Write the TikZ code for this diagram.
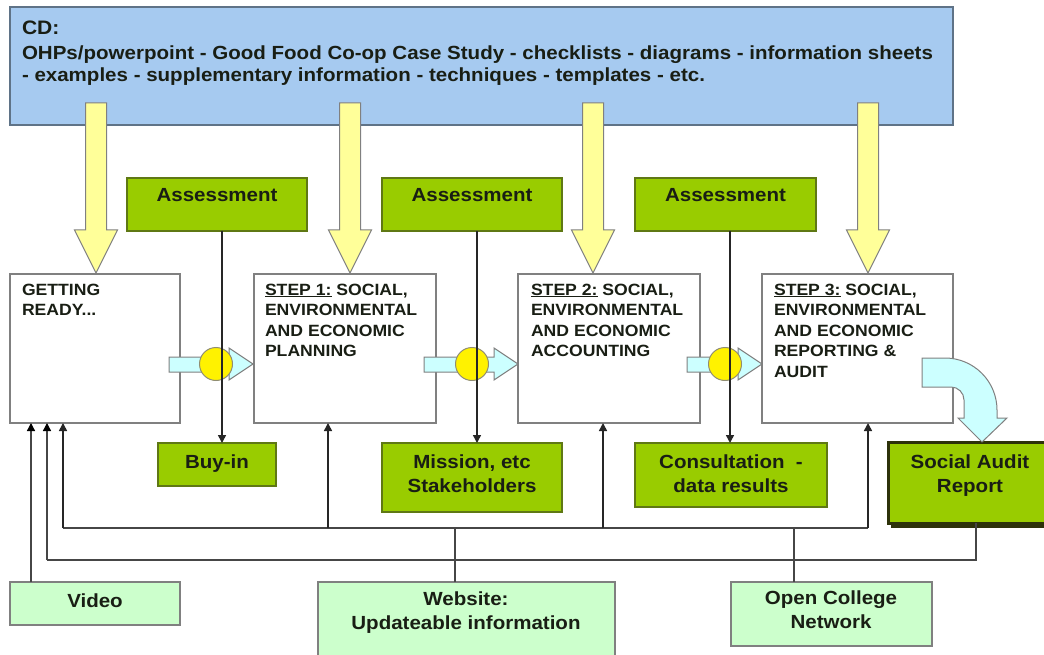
\documentclass[tikz,border=0pt]{standalone}
\usepackage{fontspec}
\setmainfont{Liberation Sans}[FakeStretch=1.08]
\usetikzlibrary{arrows.meta,calc}
\definecolor{cdblue}{RGB}{166,202,240}
\definecolor{cdedge}{RGB}{95,115,135}
\definecolor{grn}{RGB}{153,204,0}
\definecolor{grnedge}{RGB}{95,120,20}
\definecolor{ltg}{RGB}{204,255,204}
\definecolor{ypale}{RGB}{255,255,153}
\definecolor{bpale}{RGB}{204,255,255}
\definecolor{boxedge}{RGB}{128,128,128}
\definecolor{sardark}{RGB}{45,50,10}
\definecolor{txt}{RGB}{25,30,20}
\newcommand{\fcdhead}{\fontsize{19.5}{22}\selectfont\bfseries}
\newcommand{\fcdline}{\fontsize{19}{22}\selectfont\bfseries}
\newcommand{\fgrn}{\fontsize{19}{24}\selectfont\bfseries}
\newcommand{\fstep}{\fontsize{16.3}{20.6}\selectfont\bfseries}
\begin{document}
\begin{tikzpicture}[x=1pt,y=-1pt,
  every node/.style={inner sep=0pt,outer sep=0pt,text=txt},
  cdbox/.style={fill=cdblue,draw=cdedge,line width=1.2pt},
  stepbox/.style={fill=white,draw=boxedge,line width=1.3pt},
  grnbox/.style={fill=grn,draw=grnedge,line width=1.2pt},
  ltgbox/.style={fill=ltg,draw=boxedge,line width=1.2pt},
  yarrow/.style={fill=ypale,draw=boxedge,line width=1pt},
  barrow/.style={fill=bpale,draw=boxedge,line width=1pt},
  joint/.style={fill=yellow,draw=gray!80!olive,line width=1pt},
  conn/.style={draw=gray!55!black,line width=1.3pt},
  uparr/.style={draw=black!85,line width=1.5pt,-{Triangle[length=8pt,width=8pt]}},
  greyarr/.style={draw=gray!55!black,line width=1.3pt,-{Triangle[length=8pt,width=8pt,color=black]}},
  downarr/.style={draw=black!85,line width=1.5pt,-{Triangle[length=8pt,width=8pt]}},
  grntext/.style={font=\fgrn,align=center,anchor=base},
  steptext/.style={font=\fstep,align=left,anchor=base west}
]
\clip (0,0) rectangle (1044,655);
\fill[white] (0,0) rectangle (1044,655);

% CD box
\node[cdbox,anchor=north west,minimum width=943pt,minimum height=118pt] (cd) at (10,7) {};
\node[font=\fcdhead,anchor=base west] (cdh) at (22,35) {CD:};
\node[font=\fcdline,anchor=base west] (cdl1) at (22,60) {OHPs/powerpoint - Good Food Co-op Case Study - checklists - diagrams - information sheets};
\node[font=\fcdline,anchor=base west] (cdl2) at (22,82) {- examples - supplementary information - techniques - templates - etc.};

% yellow block arrows from CD to steps
\foreach \cx in {96,350,593,868}{
  \draw[yarrow] (\cx-10.5,103) -- (\cx+10.5,103) -- (\cx+10.5,230) -- (\cx+21.5,230)
    -- (\cx,273) -- (\cx-21.5,230) -- (\cx-10.5,230) -- cycle;
}

% step boxes
\node[stepbox,anchor=north west,minimum width=170pt,minimum height=149pt] (gr) at (10,274) {};
\node[stepbox,anchor=north west,minimum width=182pt,minimum height=149pt] (s1) at (254,274) {};
\node[stepbox,anchor=north west,minimum width=182pt,minimum height=149pt] (s2) at (518,274) {};
\node[stepbox,anchor=north west,minimum width=191pt,minimum height=149pt] (s3) at (762,274) {};

% (multi-line node: base = baseline of the last line)
\node[steptext] (grt) at (22,315.6) {GETTING\\READY...};
\node[steptext] (s1t) at (265,356.8) {\underline{STEP 1:} SOCIAL,\\ENVIRONMENTAL\\AND ECONOMIC\\PLANNING};
\node[steptext] (s2t) at (531,356.8) {\underline{STEP 2:} SOCIAL,\\ENVIRONMENTAL\\AND ECONOMIC\\ACCOUNTING};
\node[steptext] (s3t) at (774,377.4) {\underline{STEP 3:} SOCIAL,\\ENVIRONMENTAL\\AND ECONOMIC\\REPORTING \&\\AUDIT};

% assessment boxes
\node[grnbox,anchor=north west,minimum width=180pt,minimum height=53pt] (as1) at (127,178) {};
\node[grnbox,anchor=north west,minimum width=180pt,minimum height=53pt] (as2) at (382,178) {};
\node[grnbox,anchor=north west,minimum width=181pt,minimum height=53pt] (as3) at (635,178) {};
\node[grntext] (as1t) at (217,202) {Assessment};
\node[grntext] (as2t) at (472,202) {Assessment};
\node[grntext] (as3t) at (725.5,202) {Assessment};

% outcome boxes
\node[grnbox,anchor=north west,minimum width=118pt,minimum height=43pt] (buy) at (158,443) {};
\node[grnbox,anchor=north west,minimum width=180pt,minimum height=69pt] (mis) at (382,443) {};
\node[grnbox,anchor=north west,minimum width=192pt,minimum height=64pt] (con) at (635,443) {};
\fill[sardark] (891,446) rectangle (1050,528);
\node[fill=grn,draw=sardark,line width=3pt,anchor=north west,minimum width=165pt,minimum height=81pt] (sar) at (888,442) {};
\node[grntext] (buyt) at (217,468) {Buy-in};
\node[grntext] (mist) at (472,492) {Mission, etc\\Stakeholders};
\node[grntext] (cont) at (731,492) {Consultation~~-\\data results};
\node[grntext] (sart) at (970,492.5) {Social Audit\\Report};

% light blue flow arrows and joints
\foreach \a/\t/\c in {169/253/216,424/518/472,687/762/725}{
  \draw[barrow] (\a,357) -- (\t-24,357) -- (\t-24,348) -- (\t,364) -- (\t-24,380)
    -- (\t-24,372) -- (\a,372) -- cycle;
  \draw[joint] (\c,364) circle[radius=16.5];
}

% curved arrow step 3 -> social audit report
\draw[barrow] (922,358) -- (945,358) arc[start angle=-90,end angle=0,radius=52]
  -- (997,418) -- (1007,418) -- (982,442) -- (958,418) -- (964,418) -- (964,400)
  arc[start angle=0,end angle=-90,radius=13] -- (922,387) -- cycle;

% assessment -> outcome connectors
\draw[downarr] (as1.south -| 222,0) -- (buy.north -| 222,0);
\draw[downarr] (as2.south -| 477,0) -- (mis.north -| 477,0);
\draw[downarr] (as3.south -| 730,0) -- (con.north -| 730,0);

% resource boxes
\node[ltgbox,anchor=north west,minimum width=170pt,minimum height=43pt] (vid) at (10,582) {};
\node[ltgbox,anchor=north west,minimum width=297pt,minimum height=80pt] (web) at (318,582) {};
\node[ltgbox,anchor=north west,minimum width=201pt,minimum height=64pt] (ocn) at (731,582) {};
\node[grntext] (vidt) at (95,607) {Video};
\node[grntext] (webt) at (466,629) {Website:\\Updateable information};
\node[grntext] (ocnt) at (831,628) {Open College\\Network};

% bus lines
\coordinate (b0) at (63,528);
\coordinate (b1) at (328,528);
\coordinate (b2) at (603,528);
\coordinate (b3) at (868,528);
\draw[conn] (b0) -- (b3);
\draw[conn] (web.north -| 455,0) -- (455,528);
\draw[conn] (ocn.north -| 794,0) -- (794,528);
\draw[uparr] (b0) -- (b0 |- gr.south);
\draw[uparr] (b1) -- (b1 |- s1.south);
\draw[uparr] (b2) -- (b2 |- s2.south);
\draw[uparr] (b3) -- (b3 |- s3.south);
\coordinate (c0) at (47,560);
\draw[conn] (sar.south -| 976,0) -- (976,560) -- (c0);
\draw[greyarr] (c0) -- (c0 |- gr.south);
\draw[greyarr] (vid.north -| 31,0) -- (gr.south -| 31,0);
\end{tikzpicture}
\end{document}
